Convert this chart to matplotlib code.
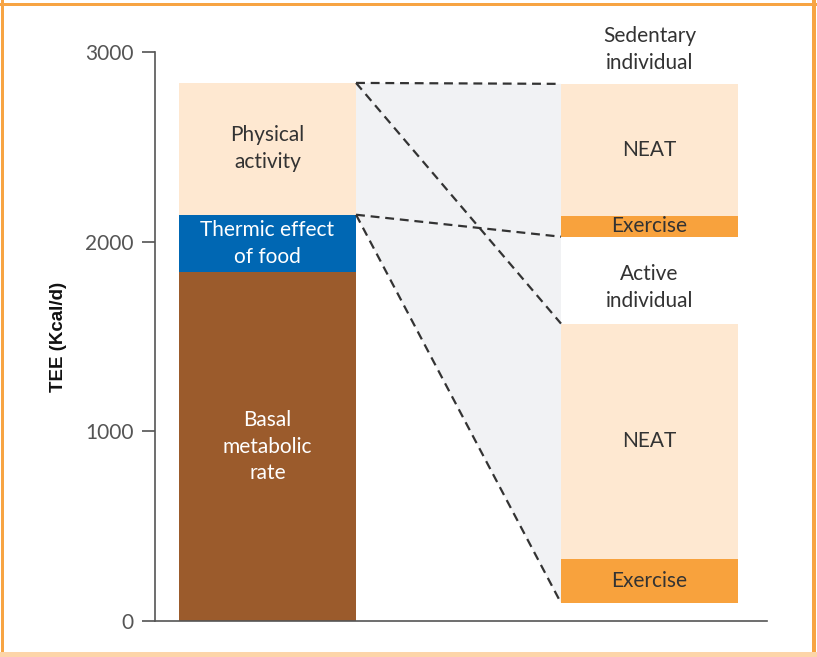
import matplotlib
matplotlib.use("Agg")
import matplotlib.pyplot as plt
from matplotlib.patches import Polygon, Rectangle

plt.rcParams["font.family"] = ["Lato", "DejaVu Sans"]

# total energy expenditure breakdown (kcal/d)
tee_labels = ["Basal\nmetabolic\nrate", "Thermic effect\nof food", "Physical\nactivity"]
tee_bottoms = [0, 1840, 2142]
tee_tops = [1840, 2142, 2837]

sed_labels = ["Exercise", "NEAT"]
sed_bottoms = [2026, 2137]
sed_tops = [2137, 2832]

act_labels = ["Exercise", "NEAT"]
act_bottoms = [95, 326]
act_tops = [326, 1568]

y_ticks = [0, 1000, 2000, 3000]

C_PEACH = "#fee8d1"
C_BLUE = "#0067b3"
C_BROWN = "#9b5b2c"
C_ORANGE = "#f8a23d"
C_GRAY = "#f1f2f4"
C_TEXT = "#333333"

X_LEFT = 0.0
X_RIGHT = 2.158
W = 1.0
FS = 15
LS = 1.42

fig = plt.figure(figsize=(8.17, 6.57), dpi=100)
ax = fig.add_axes([155 / 817, 36 / 657, 612 / 817, 569 / 657])

# grey connecting region
poly = Polygon(
    [
        (X_LEFT + W / 2, tee_tops[-1]),
        (X_RIGHT - W / 2, sed_tops[-1]),
        (X_RIGHT - W / 2, act_bottoms[0]),
        (X_LEFT + W / 2, tee_bottoms[-1]),
    ],
    closed=True, facecolor=C_GRAY, edgecolor="none", zorder=1,
)
ax.add_patch(poly)

# left stacked bar
left_colors = [C_BROWN, C_BLUE, C_PEACH]
left_txt = ["white", "white", C_TEXT]
for lab, b, t, c, tc in zip(tee_labels, tee_bottoms, tee_tops, left_colors, left_txt):
    ax.bar(X_LEFT, t - b, bottom=b, width=W, color=c, zorder=2)
    ax.text(X_LEFT, (b + t) / 2, lab, ha="center", va="center", color=tc,
            fontsize=FS, linespacing=LS, zorder=3)

# right bars
for labels, bottoms, tops in [(sed_labels, sed_bottoms, sed_tops),
                              (act_labels, act_bottoms, act_tops)]:
    for lab, b, t, c in zip(labels, bottoms, tops, [C_ORANGE, C_PEACH]):
        ax.bar(X_RIGHT, t - b, bottom=b, width=W, color=c, zorder=2)
        ax.text(X_RIGHT, (b + t) / 2, lab, ha="center", va="center",
                color=C_TEXT, fontsize=FS, zorder=3)

ax.text(X_RIGHT, sed_tops[-1] + 180, "Sedentary\nindividual", ha="center",
        va="center", color=C_TEXT, fontsize=FS, linespacing=LS, clip_on=False)
ax.text(X_RIGHT, act_tops[-1] + 190, "Active\nindividual", ha="center",
        va="center", color=C_TEXT, fontsize=FS, linespacing=LS)

# dashed connectors
dash = dict(color="#333333", linestyle=(0, (4, 2.6)), linewidth=1.6, zorder=4)
x0, x1 = X_LEFT + W / 2, X_RIGHT - W / 2
ax.plot([x0, x1], [tee_tops[-1], sed_tops[-1]], **dash)
ax.plot([x0, x1], [tee_bottoms[-1], sed_bottoms[0]], **dash)
ax.plot([x0, x1], [tee_tops[-1], act_tops[-1]], **dash)
ax.plot([x0, x1], [tee_bottoms[-1], act_bottoms[0]], **dash)

ax.set_xlim(-0.636, 2.822)
ax.set_ylim(0, 3000)
ax.set_xticks([])
ax.set_yticks(y_ticks)
ax.tick_params(axis="y", length=9.5, width=1.1, color="#444444",
               labelsize=15, labelcolor="#555555", pad=6)
for s in ["top", "right"]:
    ax.spines[s].set_visible(False)
for s in ["left", "bottom"]:
    ax.spines[s].set_color("#555555")
    ax.spines[s].set_linewidth(1.2)

ax.set_ylabel("TEE (Kcal/d)", family=["Liberation Sans", "DejaVu Sans"],
              fontweight="bold", fontsize=13.5, color="#111111", labelpad=13)

# orange frame
tf = fig.transFigure
fig.add_artist(Rectangle((1 / 817, 0), 3 / 817, 1, transform=tf,
                         facecolor="#f7a443", edgecolor="none"))
fig.add_artist(Rectangle((0, 651 / 657), 1, 3.5 / 657, transform=tf,
                         facecolor="#f7a443", edgecolor="none"))
fig.add_artist(Rectangle((812 / 817, 0), 3.5 / 817, 1, transform=tf,
                         facecolor="#f7a443", edgecolor="none"))
fig.add_artist(Rectangle((0, 0), 1, 5 / 657, transform=tf,
                         facecolor="#fdd5a9", edgecolor="none"))

fig.savefig("out.png", dpi=100)
